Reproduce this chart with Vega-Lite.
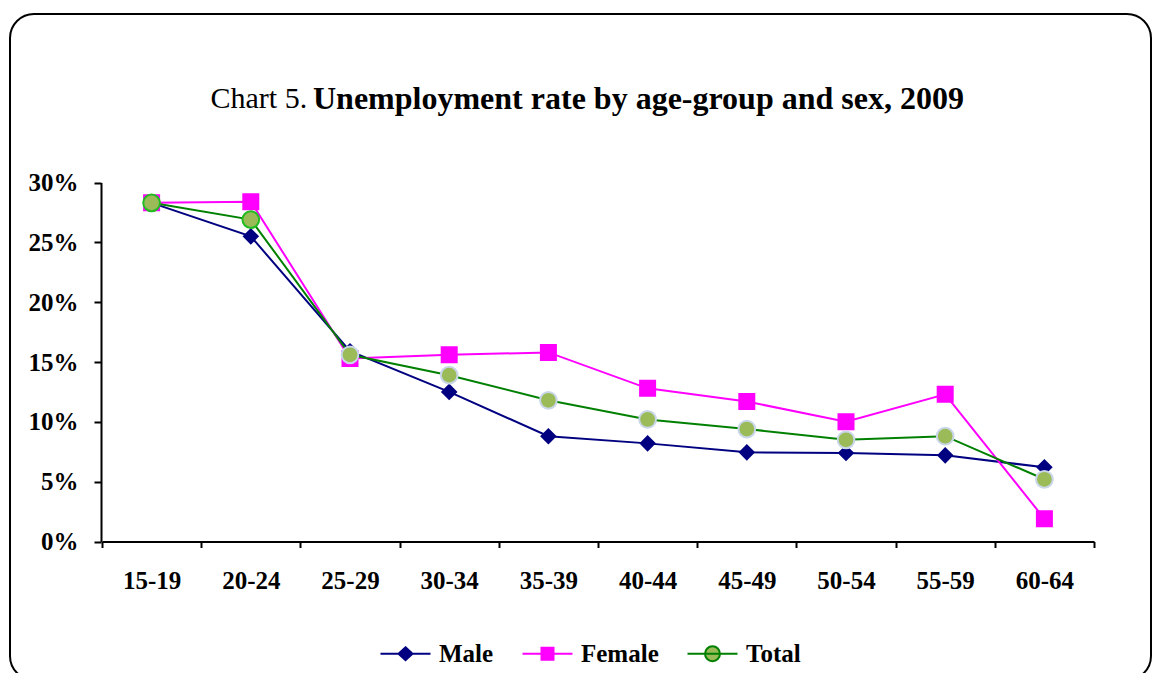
{
  "$schema": "https://vega.github.io/schema/vega-lite/v6.json",
  "width": 1141,
  "height": 666,
  "autosize": {"type": "none"},
  "padding": {"left": 10, "top": 14, "right": 5, "bottom": 0},
  "background": "white",
  "config": {
    "view": {"stroke": "black", "strokeWidth": 2, "cornerRadius": 24, "fill": "white"},
    "font": "Liberation Serif"
  },
  "title": {
    "text": "Unemployment rate by age-group and sex, 2009",
    "anchor": "start",
    "frame": "group",
    "dx": 303,
    "offset": -127,
    "baseline": "alphabetic",
    "font": "Liberation Serif",
    "fontSize": 32,
    "fontWeight": "bold",
    "color": "black"
  },
  "data": {
    "values": [
      {"age": "15-19", "series": "Male", "rate": 0.283},
      {"age": "20-24", "series": "Male", "rate": 0.255},
      {"age": "25-29", "series": "Male", "rate": 0.159},
      {"age": "30-34", "series": "Male", "rate": 0.125},
      {"age": "35-39", "series": "Male", "rate": 0.088},
      {"age": "40-44", "series": "Male", "rate": 0.082},
      {"age": "45-49", "series": "Male", "rate": 0.0745},
      {"age": "50-54", "series": "Male", "rate": 0.074},
      {"age": "55-59", "series": "Male", "rate": 0.072},
      {"age": "60-64", "series": "Male", "rate": 0.062},
      {"age": "15-19", "series": "Female", "rate": 0.283},
      {"age": "20-24", "series": "Female", "rate": 0.284},
      {"age": "25-29", "series": "Female", "rate": 0.153},
      {"age": "30-34", "series": "Female", "rate": 0.156},
      {"age": "35-39", "series": "Female", "rate": 0.158},
      {"age": "40-44", "series": "Female", "rate": 0.128},
      {"age": "45-49", "series": "Female", "rate": 0.117},
      {"age": "50-54", "series": "Female", "rate": 0.100},
      {"age": "55-59", "series": "Female", "rate": 0.123},
      {"age": "60-64", "series": "Female", "rate": 0.019},
      {"age": "15-19", "series": "Total", "rate": 0.283},
      {"age": "20-24", "series": "Total", "rate": 0.269},
      {"age": "25-29", "series": "Total", "rate": 0.156},
      {"age": "30-34", "series": "Total", "rate": 0.139},
      {"age": "35-39", "series": "Total", "rate": 0.118},
      {"age": "40-44", "series": "Total", "rate": 0.102},
      {"age": "45-49", "series": "Total", "rate": 0.094},
      {"age": "50-54", "series": "Total", "rate": 0.085},
      {"age": "55-59", "series": "Total", "rate": 0.088},
      {"age": "60-64", "series": "Total", "rate": 0.052}
    ]
  },
  "encoding": {
    "x": {
      "field": "age",
      "type": "ordinal",
      "sort": null,
      "scale": {"type": "band", "range": [92, 1084], "paddingInner": 0, "paddingOuter": 0},
      "axis": {
        "title": null,
        "orient": "bottom",
        "offset": -138.5,
        "tickBand": "extent",
        "tickSize": 6,
        "tickWidth": 2,
        "tickColor": "black",
        "domainWidth": 2,
        "domainColor": "black",
        "labelAngle": 0,
        "labelFont": "Liberation Serif",
        "labelFontSize": 25,
        "labelFontWeight": "bold",
        "labelColor": "black",
        "labelPadding": 21,
        "grid": false
      }
    },
    "y": {
      "field": "rate",
      "type": "quantitative",
      "scale": {"domain": [0, 0.3], "range": [527.5, 168.5], "nice": false},
      "axis": {
        "title": "Chart 5.",
        "titleAngle": 0,
        "titleX": 109,
        "titleY": 93,
        "titleAlign": "left",
        "titleBaseline": "alphabetic",
        "titleFont": "Liberation Serif",
        "titleFontSize": 30,
        "titleFontWeight": "normal",
        "titleColor": "black",
        "offset": -91,
        "values": [0, 0.05, 0.1, 0.15, 0.2, 0.25, 0.3],
        "format": ".0%",
        "tickSize": 7,
        "tickWidth": 2,
        "tickColor": "black",
        "domainWidth": 2,
        "domainColor": "black",
        "labelFont": "Liberation Serif",
        "labelFontSize": 25,
        "labelFontWeight": "bold",
        "labelColor": "black",
        "labelPadding": 16,
        "grid": false
      }
    }
  },
  "layer": [
    {
      "mark": {"type": "line", "strokeWidth": 2},
      "encoding": {
        "stroke": {
          "field": "series",
          "type": "nominal",
          "sort": null,
          "scale": {"domain": ["Male", "Female", "Total"], "range": ["#000080", "#ff00ff", "#008000"]},
          "legend": {
            "orient": "none",
            "legendX": 383,
            "legendY": 627,
            "direction": "horizontal",
            "gridAlign": "each",
            "title": null,
            "labelFont": "Liberation Serif",
            "labelFontSize": 25,
            "labelFontWeight": "bold",
            "labelColor": "black",
            "labelOffset": 21,
            "columnPadding": 24,
            "symbolSize": 400,
            "symbolStrokeWidth": 2,
            "encode": {
              "symbols": {
                "update": {
                  "shape": {"signal": "datum.value === 'Male' ? 'M-2.5,0L2.5,0M0,-0.65L0.7,0L0,0.65L-0.7,0Z' : datum.value === 'Female' ? 'M-2.5,0L2.5,0M-0.6,-0.6L0.6,-0.6L0.6,0.6L-0.6,0.6Z' : 'M-2.5,0L2.5,0M0.75,0A0.75,0.75 0 1,1 -0.75,0A0.75,0.75 0 1,1 0.75,0Z'"},
                  "fill": {"signal": "datum.value === 'Male' ? '#000080' : datum.value === 'Female' ? '#ff00ff' : '#9bbb59'"},
                  "fillOpacity": {"value": 1},
                  "opacity": {"value": 1}
                }
              }
            }
          }
        }
      }
    },
    {
      "mark": {"type": "point", "filled": true, "opacity": 1, "strokeWidth": 2},
      "encoding": {
        "shape": {
          "condition": [
            {"test": "datum.series === 'Male'", "value": "diamond"},
            {"test": "datum.series === 'Female'", "value": "square"}
          ],
          "value": "circle"
        },
        "fill": {
          "condition": [
            {"test": "datum.series === 'Male'", "value": "#000080"},
            {"test": "datum.series === 'Female'", "value": "#ff00ff"}
          ],
          "value": "#9bbb59"
        },
        "size": {
          "condition": [
            {"test": "datum.series === 'Male'", "value": 190},
            {"test": "datum.series === 'Female'", "value": 225}
          ],
          "value": 280
        },
        "stroke": {
          "condition": [
            {"test": "datum.series === 'Male'", "value": "#000080"},
            {"test": "datum.series === 'Female'", "value": "#ff00ff"},
            {"test": "datum.age === '15-19' || datum.age === '20-24'", "value": "#22bb22"}
          ],
          "value": "#c8d6e8"
        }
      }
    }
  ]
}
